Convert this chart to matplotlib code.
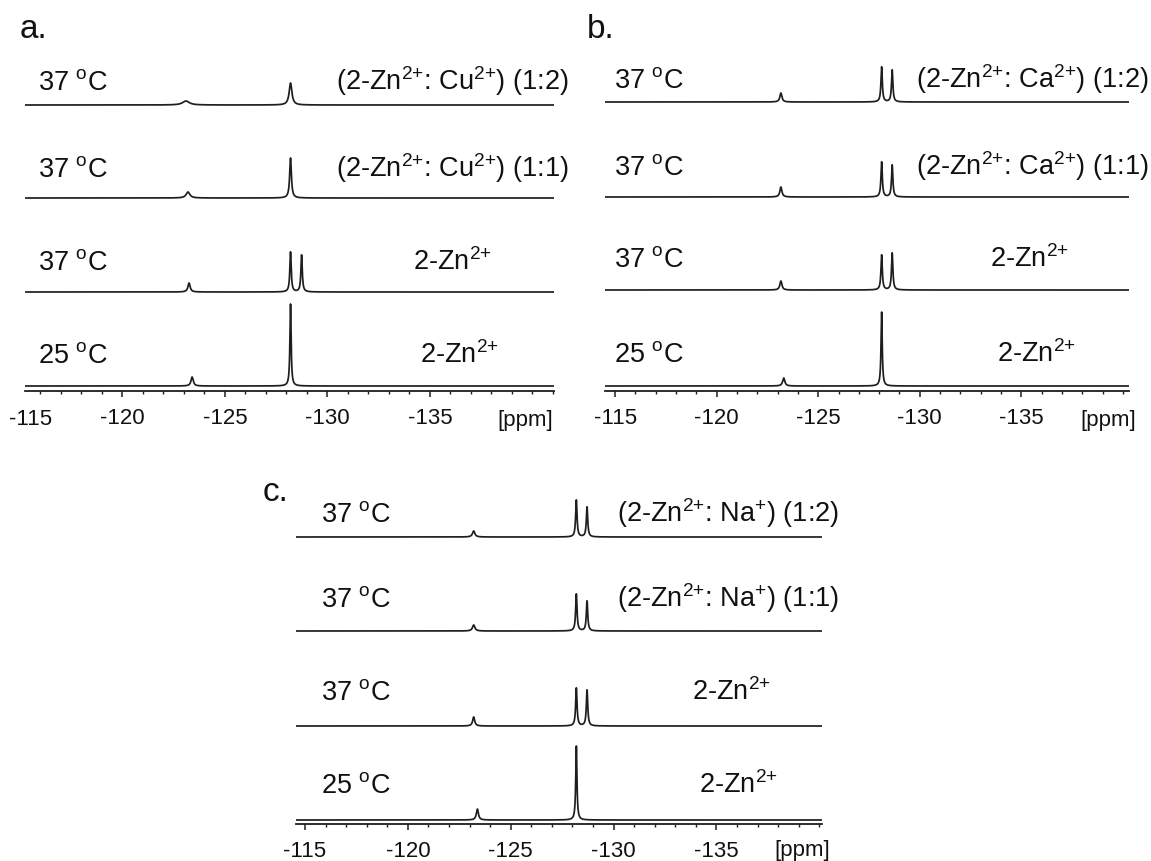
import numpy as np
import matplotlib
matplotlib.use("Agg")
import matplotlib.pyplot as plt
from matplotlib.ticker import MultipleLocator

plt.rcParams['font.family'] = ['Liberation Sans', 'DejaVu Sans']
plt.rcParams['mathtext.fontset'] = 'custom'
plt.rcParams['mathtext.rm'] = 'Liberation Sans'
plt.rcParams['mathtext.it'] = 'Liberation Sans:italic'
plt.rcParams['mathtext.bf'] = 'Liberation Sans:bold'
plt.rcParams['axes.unicode_minus'] = False

# ---------------- data (ppm positions, intensities, widths) ----------------
tick_ppm = [-115, -120, -125, -130, -135]
tick_labels = ["-115", "-120", "-125", "-130", "-135"]

SUP2 = r"$^{\text{2+}}$"
SUP1 = r"$^{\text{+}}$"

# panel a : Cu2+  (traces from top to bottom)
a_temps = ["37", "37", "37", "25"]
a_names = ["(2-Zn" + SUP2 + ": Cu" + SUP2 + ") (1:2)", "(2-Zn" + SUP2 + ": Cu" + SUP2 + ") (1:1)",
           "2-Zn" + SUP2, "2-Zn" + SUP2]
a_pos = [[-123.10, -128.20], [-123.20, -128.20],
         [-123.25, -128.20, -128.74], [-123.40, -128.20]]
a_int = [[4, 22], [6, 40], [9, 40, 37], [9, 82]]
a_wid = [[0.40, 0.16], [0.22, 0.10], [0.13, 0.08, 0.08], [0.13, 0.07]]

# panel b : Ca2+
b_temps = ["37", "37", "37", "25"]
b_names = ["(2-Zn" + SUP2 + ": Ca" + SUP2 + ") (1:2)", "(2-Zn" + SUP2 + ": Ca" + SUP2 + ") (1:1)",
           "2-Zn" + SUP2, "2-Zn" + SUP2]
b_pos = [[-123.16, -128.12, -128.64], [-123.16, -128.12, -128.64],
         [-123.16, -128.12, -128.64], [-123.30, -128.12]]
b_int = [[9, 35, 32], [10, 35, 32], [9, 35, 37], [8, 74]]
b_wid = [[0.12, 0.08, 0.08], [0.12, 0.08, 0.08], [0.12, 0.08, 0.08], [0.13, 0.07]]

# panel c : Na+
c_temps = ["37", "37", "37", "25"]
c_names = ["(2-Zn" + SUP2 + ": Na" + SUP1 + ") (1:2)", "(2-Zn" + SUP2 + ": Na" + SUP1 + ") (1:1)",
           "2-Zn" + SUP2, "2-Zn" + SUP2]
c_pos = [[-123.20, -128.19, -128.71], [-123.20, -128.19, -128.71],
         [-123.20, -128.19, -128.71], [-123.38, -128.19]]
c_int = [[6, 37, 30], [6, 37, 30], [9, 38, 36], [11, 74]]
c_wid = [[0.14, 0.08, 0.08], [0.14, 0.08, 0.08], [0.12, 0.08, 0.08], [0.12, 0.07]]

# ---------------- layout ----------------
W, H = 1151, 862
fig = plt.figure(figsize=(W / 100, H / 100), dpi=100)
LC = '#1e1e1e'
TC = '#111111'
FS_LAB = 19.5
FS_TICK = 16
FS_LET = 24


def ftext(x, y, s, **kw):
    return fig.text(x / W, 1 - y / H, s, color=TC, **kw)


def spectrum(ax, xlim, offs, pos, ints, wids):
    x = np.linspace(xlim[0], xlim[1], 8000)
    for off, p, h, w in zip(offs, pos, ints, wids):
        y = np.zeros_like(x)
        for pp, hh, ww in zip(p, h, w):
            y += hh / (1 + ((x - pp) / (ww / 2)) ** 2)
        ax.plot(x, y + off, color=LC, lw=1.25, solid_capstyle='butt')


def make_panel(x0, x1, ybot, ytop, xlim, offs, pos, ints, wids, ticks, labels):
    ax = fig.add_axes([x0 / W, (H - ybot) / H, (x1 - x0) / W, (ybot - ytop) / H])
    spectrum(ax, xlim, offs, pos, ints, wids)
    ax.set_xlim(*xlim)
    ax.set_ylim(0, ybot - ytop)
    for s in ['top', 'left', 'right']:
        ax.spines[s].set_visible(False)
    ax.spines['bottom'].set_linewidth(1.3)
    ax.spines['bottom'].set_color(LC)
    ax.set_yticks([])
    ax.set_xticks(ticks)
    ax.set_xticklabels(labels, fontsize=FS_TICK, color=TC)
    ax.xaxis.set_minor_locator(MultipleLocator(1))
    ax.tick_params(axis='x', which='major', direction='out', length=4, width=1.1,
                   color=LC, pad=7.5)
    ax.tick_params(axis='x', which='minor', direction='out', length=2.5, width=1.0,
                   color=LC)
    ax.patch.set_alpha(0)
    return ax


# trace offsets listed top to bottom
ax_a = make_panel(25, 554, 392, 40, (-115.25, -141.05), [286, 193, 99, 5],
                  a_pos, a_int, a_wid, tick_ppm[1:], tick_labels[1:])
ax_b = make_panel(605, 1129, 392, 40, (-114.5, -140.3), [289, 194, 101, 5],
                  b_pos, b_int, b_wid, tick_ppm, tick_labels)
ax_c = make_panel(295.5, 822, 825, 473, (-114.54, -140.13), [287, 193, 98, 4],
                  c_pos, c_int, c_wid, tick_ppm, tick_labels)

# panel a -115 label (its tick lies just outside the axis)
ftext(31, 425, tick_labels[0], fontsize=FS_TICK, ha='center', va='baseline')

# [ppm] labels
ftext(553, 426, "[ppm]", fontsize=FS_TICK, ha='right', va='baseline')
ftext(1136, 426, "[ppm]", fontsize=FS_TICK, ha='right', va='baseline')
ftext(830, 856, "[ppm]", fontsize=FS_TICK, ha='right', va='baseline')

# panel letters
ftext(20, 38, "a.", fontsize=FS_LET, ha='left', va='baseline')
ftext(587, 38, "b.", fontsize=FS_LET, ha='left', va='baseline')
ftext(263, 501, "c.", fontsize=FS_LET, ha='left', va='baseline')

# row labels: (left x, baselines, temps, names, right-label x, right-label alignment)
rows = [
    (38, [90, 177, 270, 363], a_temps, a_names, [569, 569, 413, 420], ['right', 'right', 'left', 'left']),
    (614, [88, 175, 267, 362], b_temps, b_names, [1149, 1149, 990, 997], ['right', 'right', 'left', 'left']),
    (321, [522, 607, 700, 793], c_temps, c_names, [839, 839, 692, 699], ['right', 'right', 'left', 'left']),
]
for xl, ys, temps, names, xr, has in rows:
    for y, t, n, xx, ha in zip(ys, temps, names, xr, has):
        ftext(xl, y, t + r" $^{\text{o}}$C", fontsize=FS_LAB, ha='left', va='baseline')
        ftext(xx, y, n, fontsize=FS_LAB, ha=ha, va='baseline')

fig.savefig("out.png", dpi=100, facecolor='white')
